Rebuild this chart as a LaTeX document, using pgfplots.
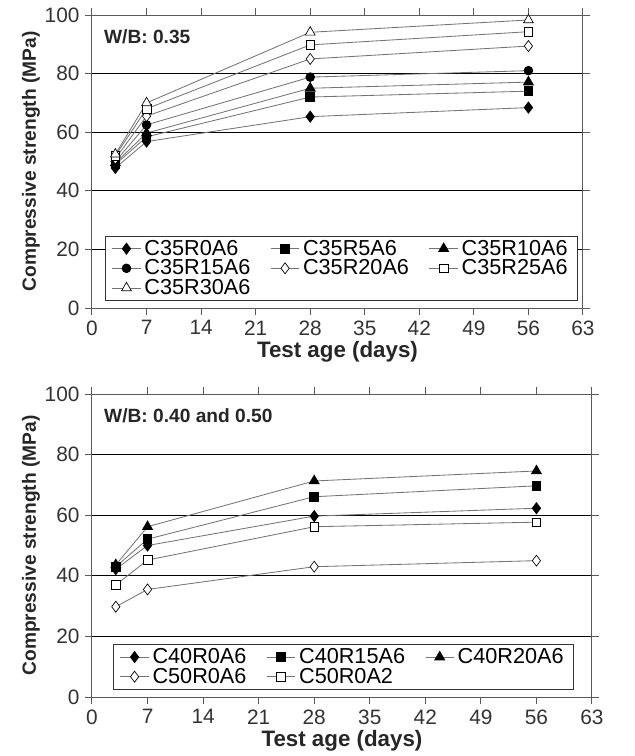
\documentclass[border=0pt]{standalone}
\usepackage{fontspec}
\setmainfont{Liberation Sans}
\usepackage{pgfplots}
\pgfplotsset{compat=1.18}
\definecolor{ln}{gray}{0.45}
\definecolor{ax}{gray}{0.35}
\pgfplotsset{
  myax/.style={
    scale only axis,
    xmin=0, xmax=63, ymin=0, ymax=100,
    xtick={0,7,...,63}, ytick={0,20,...,100},
    ymajorgrids, grid style={black, line width=0.5pt},
    axis line style={ax, line width=0.6pt},
    tick style={ax, line width=0.6pt},
    tick align=outside, major tick length=4pt,
    /pgf/number format/assume math mode=true,
    tick label style={font=\fontsize{12.5}{14}\selectfont, text=black!80},
    ylabel={\bfseries Compressive strength (MPa)},
    xlabel={\bfseries Test age (days)},
    ylabel style={yshift=-4pt, font=\fontsize{11.5}{13}\selectfont, text=black!85},
    xlabel style={yshift=3pt, font=\fontsize{13.4}{15}\selectfont, text=black!85},
    legend columns=3,
    legend cell align=left,
    legend style={font=\fontsize{13}{14}\selectfont, draw=black!80, line width=0.5pt,
      inner xsep=4pt, inner ysep=1.5pt, row sep=0pt,
      nodes={inner ysep=0.6pt},
      /tikz/every even column/.append style={column sep=10pt}},
  },
  base/.style={ln, line width=0.5pt, mark size=2.6pt},
  fd/.style={base, mark=diamond*, mark options={draw=black, fill=black, solid}, mark size=3.3pt},
  fs/.style={base, mark=square*, mark options={draw=black, fill=black, solid}},
  ft/.style={base, mark=triangle*, mark options={draw=black, fill=black, solid}, mark size=3.4pt},
  fc/.style={base, mark=*, mark options={draw=black, fill=black, solid}},
  od/.style={base, mark=diamond*, mark options={draw=black, fill=white, solid, line width=0.4pt}, mark size=3.3pt},
  os/.style={base, mark=square*, mark options={draw=black, fill=white, solid, line width=0.4pt}},
  ot/.style={base, mark=triangle*, mark options={draw=black, fill=white, solid, line width=0.4pt}, mark size=3.4pt},
}
\begin{document}
\begin{tikzpicture}
\begin{axis}[myax, at={(0,233.4pt)}, anchor=south west,
  width=294.6pt, height=175.8pt,
  legend style={at={(0.508,0.025)}, anchor=south}]
\addplot[fd] coordinates {(3,47.8) (7,56.8) (28,65.3) (56,68.4)};
\addlegendentry{C35R0A6}
\addplot[fs] coordinates {(3,49) (7,58.4) (28,72) (56,74)};
\addlegendentry{C35R5A6}
\addplot[ft] coordinates {(3,49.5) (7,59.7) (28,75) (56,77.1)};
\addlegendentry{C35R10A6}
\addplot[fc] coordinates {(3,50) (7,62.5) (28,78.8) (56,81)};
\addlegendentry{C35R15A6}
\addplot[od] coordinates {(3,51) (7,65.5) (28,85) (56,89.4)};
\addlegendentry{C35R20A6}
\addplot[os] coordinates {(3,52) (7,68) (28,89.8) (56,94.3)};
\addlegendentry{C35R25A6}
\addplot[ot] coordinates {(3,52.5) (7,70) (28,94.1) (56,98.3)};
\addlegendentry{C35R30A6}
\node[anchor=west, font=\fontsize{11.5}{13}\selectfont\bfseries, text=black!85] at (axis cs:0.8,92.5) {W/B: 0.35};
\end{axis}
\begin{axis}[myax, at={(0,0)}, anchor=south west,
  width=300pt, height=181.8pt,
  legend style={at={(0.503,0.025)}, anchor=south}]
\addplot[fd] coordinates {(3,42.2) (7,50) (28,59.7) (56,62.3)};
\addlegendentry{C40R0A6}
\addplot[fs] coordinates {(3,43) (7,52.1) (28,66.1) (56,69.7)};
\addlegendentry{C40R15A6}
\addplot[ft] coordinates {(3,43.6) (7,56.2) (28,71.3) (56,74.6)};
\addlegendentry{C40R20A6}
\addplot[od] coordinates {(3,29.8) (7,35.5) (28,43) (56,45)};
\addlegendentry{C50R0A6}
\addplot[os] coordinates {(3,37) (7,45.2) (28,56.2) (56,57.7)};
\addlegendentry{C50R0A2}
\node[anchor=west, font=\fontsize{11.5}{13}\selectfont\bfseries, text=black!85] at (axis cs:0.8,92.8) {W/B: 0.40 and 0.50};
\end{axis}
\pgfresetboundingbox
\path[use as bounding box] (-55.2pt,-35.4pt) rectangle (325.8pt,418.2pt);
\end{tikzpicture}
\end{document}
